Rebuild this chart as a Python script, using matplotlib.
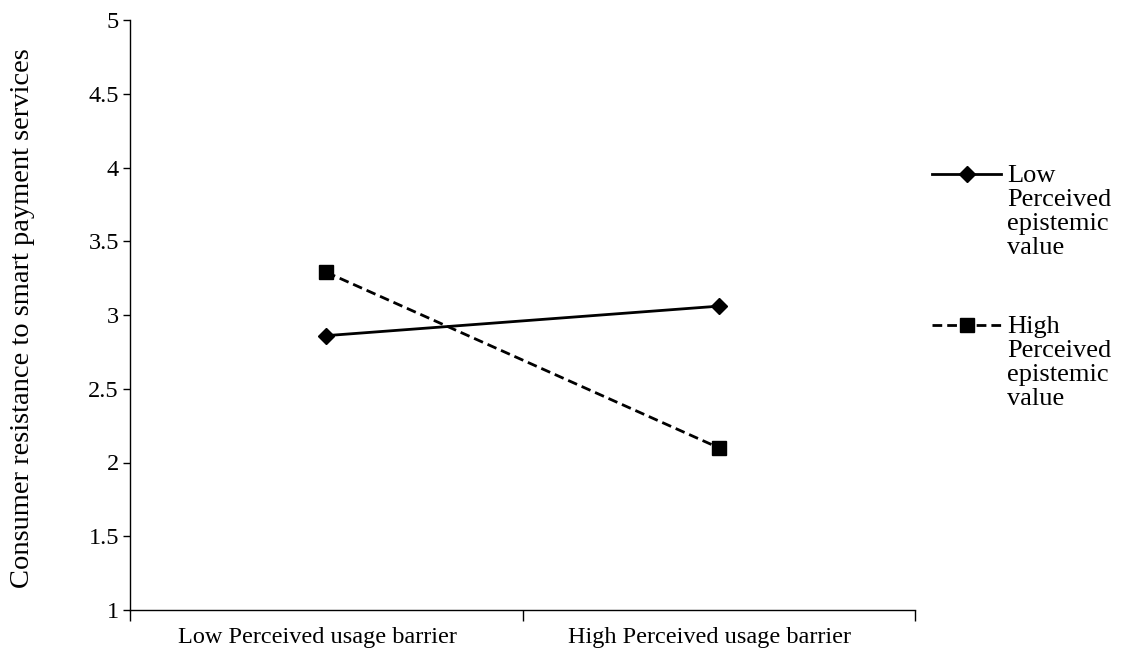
import matplotlib
matplotlib.use("Agg")
import matplotlib.pyplot as plt
import matplotlib.transforms as mtransforms
from matplotlib.lines import Line2D

plt.rcParams['font.family'] = ['Liberation Serif', 'DejaVu Serif']

categories = ["Low Perceived usage barrier", "High Perceived usage barrier"]
low_epistemic = [2.86, 3.06]
high_epistemic = [3.29, 2.10]
series_labels = ["Low\nPerceived\nepistemic\nvalue", "High\nPerceived\nepistemic\nvalue"]
y_ticks = [1, 1.5, 2, 2.5, 3, 3.5, 4, 4.5, 5]
y_label = "Consumer resistance to smart payment services"

W, H = 1122, 662
fig = plt.figure(figsize=(W / 100, H / 100), dpi=100)
ax = fig.add_axes([130 / W, 1 - 610 / H, (915 - 130) / W, (610 - 20) / H])

dash = (0, (3.5, 1.8))
x = list(range(len(categories)))
ax.plot(x, low_epistemic, color='black', lw=2, marker='D', ms=8, clip_on=False)
ax.plot(x, high_epistemic, color='black', lw=2, ls=dash, marker='s', ms=10,
        clip_on=False)

ax.set_xlim(-0.5, len(categories) - 0.5)
ax.set_ylim(1, 5)
ax.set_yticks(y_ticks)
ax.set_yticklabels([f"{t:g}" for t in y_ticks])
ax.set_xticks([i - 0.5 for i in range(len(categories) + 1)])
ax.set_xticklabels([])
ax.set_xticks(x, minor=True)
ax.set_xticklabels(categories, minor=True)
ax.tick_params(axis='x', which='major', length=8, direction='out', width=1)
ax.tick_params(axis='x', which='minor', length=0, pad=12, labelsize=17.5)
ax.tick_params(axis='y', length=5, direction='out', width=1, labelsize=17.5, pad=3)
# category labels sit slightly left of their group centres
shift = mtransforms.ScaledTranslation(-9 / 100, 0, fig.dpi_scale_trans)
for lbl in ax.get_xticklabels(minor=True):
    lbl.set_transform(lbl.get_transform() + shift)
for s in ['top', 'right']:
    ax.spines[s].set_visible(False)
for s in ['left', 'bottom']:
    ax.spines[s].set_linewidth(1)
ax.set_ylabel(y_label, fontsize=20.5)
ax.yaxis.set_label_coords(-0.121, 0.495)

# legend drawn at the right of the plot, handle level with the first text line
legend_rows = [(174, '-', 'D', 8), (325, dash, 's', 10)]
for (ypx, ls, mk, ms), label in zip(legend_rows, series_labels):
    yf = 1 - ypx / H
    fig.add_artist(Line2D([932 / W, 1001 / W], [yf, yf], color='black', lw=2, ls=ls))
    fig.add_artist(Line2D([967 / W], [yf], color='black', marker=mk, ms=ms, ls='none'))
    fig.text(1007 / W, yf + 9 / H, label, ha='left', va='top', fontsize=19,
             linespacing=1.12)

fig.savefig("out.png", dpi=100)
